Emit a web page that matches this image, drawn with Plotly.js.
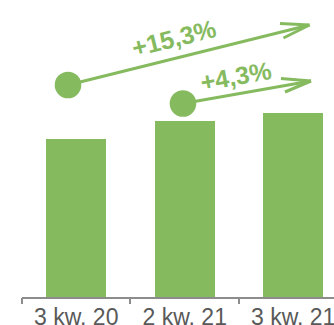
<!DOCTYPE html>
<html>
<head>
<meta charset="utf-8">
<script src="https://cdn.plot.ly/plotly-3.0.1.min.js"></script>
<style>html,body{margin:0;padding:0;background:#fff;}#chart{width:334px;height:325px;}</style>
</head>
<body>
<div id="chart"></div>
<script>
// Data
const categories = ["3 kw. 20", "2 kw. 21", "3 kw. 21"];
const values = [15.8, 17.6, 18.45];
const growthLabels = ["+15,3%", "+4,3%"];

const green = "#86BA5F";
const axisGray = "#8C8C8C";
const textGray = "#595959";

const trace = {
  type: "bar",
  x: [0, 1, 2],
  y: values,
  width: 0.553,
  marker: { color: green, line: { width: 0 } },
  hoverinfo: "skip"
};

// decorative arrows (data coordinates: x = category index, y = value units)
const arrows = [
  { from: [-0.076, 21.2], to: [2.15, 27.2], wingA: [1.878, 27.35], wingB: [1.91, 25.9],
    label: growthLabels[0], labelPos: [0.901, 25.95], angle: -14 },
  { from: [0.984, 19.35], to: [2.164, 21.6], wingA: [1.887, 21.85], wingB: [1.924, 20.5],
    label: growthLabels[1], labelPos: [1.477, 22.15], angle: -10 }
];

const shapes = [];
const annotations = [];
arrows.forEach(a => {
  const ln = { color: green, width: 3 };
  shapes.push({ type: "line", xref: "x", yref: "y", x0: a.from[0], y0: a.from[1], x1: a.to[0], y1: a.to[1], line: ln, layer: "above" });
  shapes.push({ type: "line", xref: "x", yref: "y", x0: a.wingA[0], y0: a.wingA[1], x1: a.to[0], y1: a.to[1], line: ln, layer: "above" });
  shapes.push({ type: "line", xref: "x", yref: "y", x0: a.wingB[0], y0: a.wingB[1], x1: a.to[0], y1: a.to[1], line: ln, layer: "above" });
  shapes.push({ type: "circle", xref: "x", yref: "y", xsizemode: "pixel", ysizemode: "pixel",
    xanchor: a.from[0], yanchor: a.from[1], x0: -13.3, x1: 13.3, y0: -13.3, y1: 13.3,
    fillcolor: green, line: { width: 0 }, layer: "above" });
  annotations.push({ xref: "x", yref: "y", x: a.labelPos[0], y: a.labelPos[1], text: "<b>" + a.label + "</b>",
    showarrow: false, textangle: a.angle, xanchor: "center", yanchor: "middle",
    font: { family: "Liberation Sans, Arial, sans-serif", size: 25, color: green } });
});

const layout = {
  width: 334, height: 325,
  margin: { l: 22, r: 0, t: 0, b: 28, pad: 0 },
  paper_bgcolor: "#fff", plot_bgcolor: "#fff",
  showlegend: false,
  xaxis: {
    type: "linear", range: [-0.5, 2.376], fixedrange: true,
    tickmode: "array", tickvals: [0, 1, 2], ticktext: categories,
    showgrid: false, zeroline: false,
    showline: true, linecolor: axisGray, linewidth: 2,
    ticks: "", automargin: false, ticklabeloverflow: "allow", ticklabelstandoff: -2,
    tickfont: { family: "Liberation Sans, Arial, sans-serif", size: 23, color: textGray }
  },
  xaxis2: {
    overlaying: "x", anchor: "y", side: "bottom", type: "linear", range: [-0.5, 2.376],
    tickmode: "array", tickvals: [-0.5, 0.5, 1.5], ticktext: ["", "", ""],
    ticks: "outside", ticklen: 6, tickwidth: 2, tickcolor: axisGray,
    showgrid: false, zeroline: false, showline: false, automargin: false
  },
  yaxis: { range: [0, 29.7], visible: false, fixedrange: true },
  shapes: shapes,
  annotations: annotations,
  bargap: 0
};

const tickTrace = { type: "scatter", x: [], y: [], xaxis: "x2", yaxis: "y", hoverinfo: "skip" };

Plotly.newPlot("chart", [trace, tickTrace], layout, { staticPlot: true, displayModeBar: false });
</script>
</body>
</html>
